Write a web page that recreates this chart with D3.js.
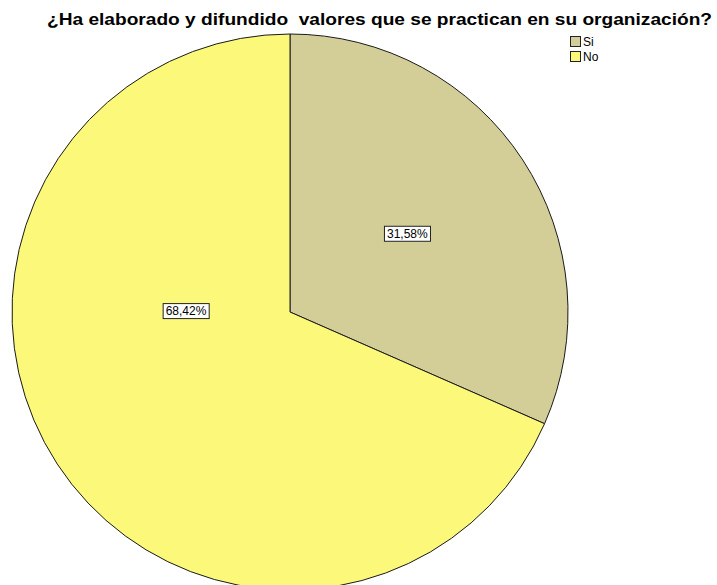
<!DOCTYPE html>
<html>
<head>
<meta charset="utf-8">
<script src="https://cdn.jsdelivr.net/npm/d3@7"></script>
<style>
  html, body { margin: 0; padding: 0; background: #fff; }
  svg { display: block; font-family: "Liberation Sans", Arial, sans-serif; }
</style>
</head>
<body>
<svg id="chart" width="717" height="585"></svg>
<script>
// Survey answers and their shares (percent)
const categories = ["Si", "No"];
const percentages = [31.58, 68.42];
const sliceColors = ["#d3ce98", "#fbf87a"];
const titleText = "¿Ha elaborado y difundido  valores que se practican en su organización?";

const svg = d3.select("#chart");
const cx = 290, cy = 312, radius = 278;

// Title
svg.append("text")
  .attr("x", 47).attr("y", 25)
  .attr("text-anchor", "start")
  .attr("textLength", 665)
  .attr("lengthAdjust", "spacingAndGlyphs")
  .style("white-space", "pre")
  .attr("font-size", 17).attr("font-weight", "bold")
  .attr("fill", "#000")
  .text(titleText);

const data = categories.map((c, i) => ({ name: c, value: percentages[i], color: sliceColors[i] }));

// Slices start at 12 o'clock and run clockwise
const pie = d3.pie().value(d => d.value).sort(null);
const arc = d3.arc().innerRadius(0).outerRadius(radius);
const arcs = pie(data);

const g = svg.append("g").attr("transform", `translate(${cx},${cy})`);
g.selectAll("path.slice")
  .data(arcs)
  .join("path")
  .attr("class", "slice")
  .attr("d", arc)
  .attr("fill", d => d.data.color)
  .attr("stroke", "#1a1a1a")
  .attr("stroke-width", 1);

// Value labels inside boxed frames: placement angle (deg from 12 o'clock) and radius
const labelAngles = [56.3, 270.5];
const labelRadii = [141, 104];
const fmt = v => v.toFixed(2).replace(".", ",") + "%";

arcs.forEach((d, i) => {
  const a = labelAngles[i] * Math.PI / 180;
  const x = Math.sin(a) * labelRadii[i];
  const y = -Math.cos(a) * labelRadii[i];
  const lg = g.append("g").attr("transform", `translate(${x},${y})`);
  const t = lg.append("text")
    .attr("text-anchor", "middle")
    .attr("dominant-baseline", "central")
    .attr("font-size", 12)
    .attr("fill", "#000")
    .text(fmt(d.data.value));
  const bb = t.node().getBBox();
  lg.insert("rect", "text")
    .attr("x", bb.x - 2.5).attr("y", -7.5)
    .attr("width", bb.width + 5).attr("height", 15)
    .attr("fill", "#fff")
    .attr("stroke", "#222")
    .attr("stroke-width", 1);
});

// Legend
const legend = svg.append("g").attr("transform", "translate(570,36)");
const items = legend.selectAll("g").data(data).join("g")
  .attr("transform", (d, i) => `translate(0,${i * 15})`);
items.append("rect")
  .attr("x", 0.5).attr("y", 0.5)
  .attr("width", 10).attr("height", 10)
  .attr("fill", d => d.color)
  .attr("stroke", "#222").attr("stroke-width", 1);
items.append("text")
  .attr("x", 13).attr("y", 10)
  .attr("font-size", 12)
  .attr("fill", "#000")
  .text(d => d.name);
</script>
</body>
</html>
